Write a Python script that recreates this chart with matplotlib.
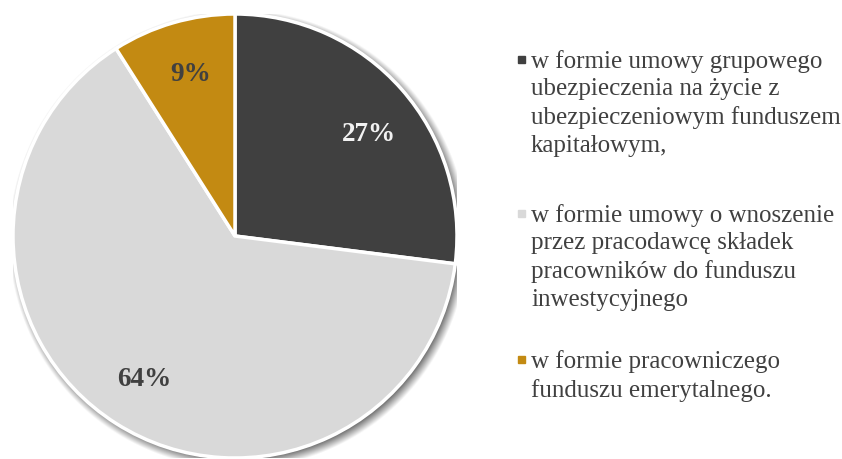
import numpy as np
import matplotlib.pyplot as plt

plt.rcParams['font.family'] = ['Liberation Serif', 'DejaVu Serif']

shares = [27, 64, 9]
pct_labels = ['27%', '64%', '9%']
legend_labels = [
    'w formie umowy grupowego\nubezpieczenia na życie z\nubezpieczeniowym funduszem\nkapitałowym,',
    'w formie umowy o wnoszenie\nprzez pracodawcę składek\npracowników do funduszu\ninwestycyjnego',
    'w formie pracowniczego\nfunduszu emerytalnego.',
]
colors = ['#404040', '#d9d9d9', '#c38a12']
pct_colors = ['#f2f2f2', '#404040', '#404040']

W, H = 842, 460
fig = plt.figure(figsize=(W / 100, H / 100), dpi=100)

# pie axes: center (235,237) px, radius ~222 px
cx, cy, r = 235, 237, 222
ax = fig.add_axes([(cx - r) / W, (H - cy - r) / H, 2 * r / W, 2 * r / H])
ax.axis('off')

# soft shadow, offset down-right
g = np.linspace(-1.1, 1.1, 500)
gx, gy = np.meshgrid(g, g)
d = np.hypot(gx - 0.015, gy + 0.015)
sh = np.clip((1.035 - d) / 0.05, 0, 1) * 0.6
rgba = np.zeros(gx.shape + (4,))
rgba[..., 3] = sh
ax.imshow(rgba, extent=(-1.1, 1.1, -1.1, 1.1), origin='lower', zorder=0,
          interpolation='bilinear')

wedges, texts = ax.pie(shares, colors=colors, startangle=90, counterclock=False,
                       radius=1, wedgeprops=dict(edgecolor='white', linewidth=2.5))
for w in wedges:
    w.set_zorder(2)
    w.set_clip_on(False)
ax.set_xlim(-1, 1)
ax.set_ylim(-1, 1)
ax.set_aspect('equal')

# percent labels (Excel best-fit nudges the first one a bit)
nudge = [-4, 0, -1]
ang0 = 90.0
total = sum(shares)
for s, lab, c, dn in zip(shares, pct_labels, pct_colors, nudge):
    mid = np.deg2rad(ang0 - 360 * s / total / 2 + dn)
    ang0 -= 360 * s / total
    ax.text(0.76 * np.cos(mid), 0.76 * np.sin(mid), lab, ha='center', va='center',
            fontsize=19.5, fontweight='bold', color=c, zorder=3)

# legend
starts = [60, 214, 360]
for y0, lab, c in zip(starts, legend_labels, colors):
    fig.patches.append(plt.Rectangle((518 / W, (H - y0 - 3.5) / H), 7 / W, 7 / H,
                                     transform=fig.transFigure, color=c,
                                     figure=fig))
    fig.text(531 / W, (H - y0 + 10) / H, lab, ha='left', va='top', fontsize=18,
             color='#404040', linespacing=1.32)

fig.savefig('out.png', dpi=100)
